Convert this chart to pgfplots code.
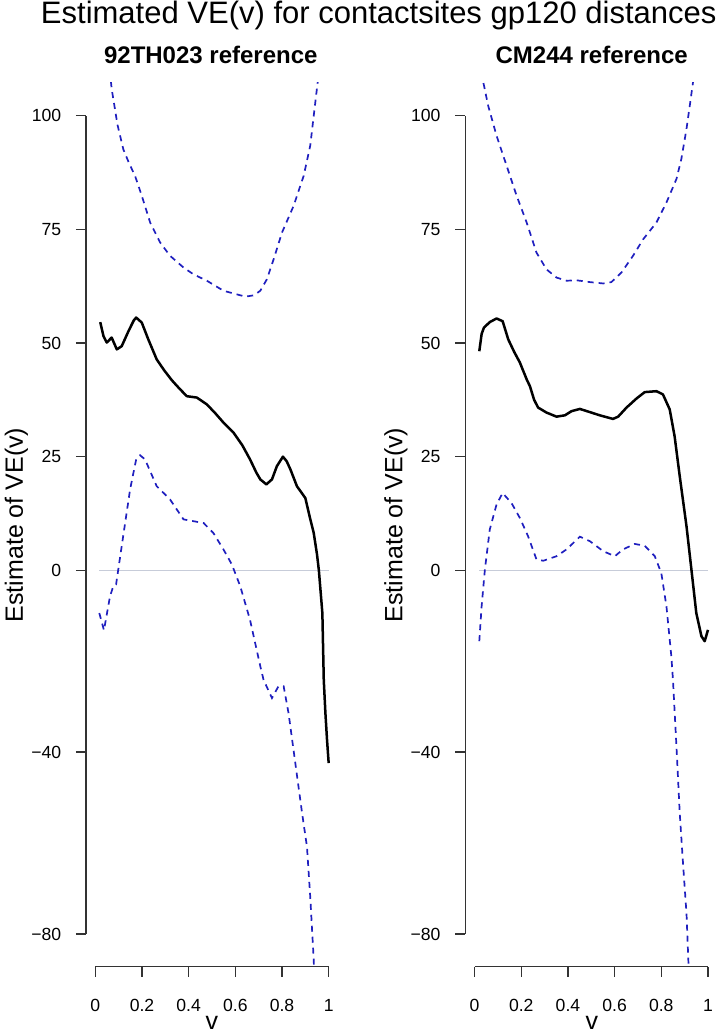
\documentclass[border=0pt]{standalone}
\usepackage{fontspec}
\setmainfont{Liberation Sans}
\usepackage{pgfplots}
\pgfplotsset{compat=1.18}
\definecolor{axiscol}{rgb}{0.2,0.2,0.2}
\definecolor{zerocol}{rgb}{0.78,0.80,0.85}
\definecolor{cicol}{rgb}{0.12,0.12,0.75}
\pgfplotsset{rpanel/.style={
  scale only axis, width=126pt, height=441.85pt,
  xmin=-0.04, xmax=1.04, ymin=-87.2, ymax=107.2,
  axis line style={draw=none},
  tick align=outside, tick pos=left, major tick length=5pt,
  every tick/.style={axiscol, line width=0.65pt},
  xtick={0,0.2,0.4,0.6,0.8,1}, xticklabels={0,0.2,0.4,0.6,0.8,1},
  ytick={-80,-40,0,25,50,75,100}, yticklabels={−80,−40,0,25,50,75,100},
  tick label style={font=\fontsize{8.8}{10}\selectfont},
  yticklabel style={anchor=east, inner sep=0pt, xshift=-7.2pt},
  xticklabel style={anchor=north, inner sep=0pt, yshift=-11.2pt},
  clip mode=individual,
},
est/.style={black, line width=1.25pt, line join=round},
ci/.style={cicol, line width=0.85pt, dash pattern=on 3pt off 2.5pt},
zl/.style={zerocol, line width=0.8pt}
}
\begin{document}
\begin{tikzpicture}
\path[use as bounding box] (0,0) rectangle (361.5pt,517pt);
\node[anchor=base, inner sep=0pt, font=\fontsize{15.5}{18}\selectfont] at (189.35pt,505pt) {Estimated VE(v) for contactsites gp120 distances};
\node[anchor=base, inner sep=0pt, font=\bfseries\fontsize{12}{14}\selectfont] at (105.4pt,485.35pt) {92TH023 reference};
\node[anchor=base, inner sep=0pt, font=\bfseries\fontsize{12}{14}\selectfont] at (295.85pt,485.35pt) {CM244 reference};
\node[rotate=90, anchor=base, inner sep=0pt, font=\fontsize{12.5}{15}\selectfont] at (11.5pt,254.5pt) {Estimate of VE(v)};
\node[rotate=90, anchor=base, inner sep=0pt, font=\fontsize{12.5}{15}\selectfont] at (201.15pt,254.5pt) {Estimate of VE(v)};
\node[anchor=base, inner sep=0pt, font=\fontsize{12.5}{15}\selectfont] at (105.9pt,2.2pt) {v};
\node[anchor=base, inner sep=0pt, font=\fontsize{12.5}{15}\selectfont] at (295.9pt,2.2pt) {v};

\begin{axis}[rpanel, at={(43pt,33.65pt)}, anchor=south west]
\draw[axiscol,line width=0.65pt] (axis cs:-0.04,-80) -- (axis cs:-0.04,100);
\draw[axiscol,line width=0.65pt] (axis cs:0,-87.2) -- (axis cs:1,-87.2);
\addplot[zl] coordinates {(0.017,0) (1.0,0)};
\addplot[ci] coordinates {(0.062,110) (0.070,105.9) (0.095,98) (0.120,92.6) (0.145,89.5) (0.170,86.8) (0.199,82.4) (0.235,76.5) (0.278,72.1) (0.320,69.2) (0.378,66.6) (0.421,65.1) (0.478,63.7) (0.549,61.5) (0.592,60.9) (0.643,60.2) (0.680,60.5) (0.707,61.5) (0.735,64.0) (0.764,68.4) (0.800,74.3) (0.850,80.2) (0.893,86.8) (0.921,93.4) (0.936,100) (0.953,107.4) (0.96,112)};
\addplot[ci] coordinates {(0.017,-9.4) (0.037,-13.2) (0.063,-5.7) (0.077,-3.5) (0.089,-3.1) (0.113,5.3) (0.149,17.8) (0.175,24.4) (0.192,25.3) (0.213,24.4) (0.263,18.5) (0.320,15.6) (0.378,11.2) (0.421,10.8) (0.464,10.4) (0.506,8.2) (0.549,4.6) (0.585,1.3) (0.621,-3.5) (0.663,-10.9) (0.707,-21.1) (0.721,-24.1) (0.757,-28.1) (0.785,-25.5) (0.807,-25.5) (0.828,-31.4) (0.857,-42.4) (0.886,-53.4) (0.907,-60.8) (0.921,-71.8) (0.936,-85.7) (0.940,-92)};
\addplot[est] coordinates {(0.021,54.6) (0.035,51.5) (0.049,50.1) (0.070,51.2) (0.092,48.6) (0.113,49.3) (0.142,52.6) (0.165,55.0) (0.175,55.6) (0.199,54.5) (0.227,50.8) (0.263,46.4) (0.295,44.0) (0.328,41.8) (0.360,40.0) (0.392,38.3) (0.435,38.0) (0.478,36.5) (0.515,34.5) (0.549,32.5) (0.592,30.3) (0.630,27.5) (0.663,24.4) (0.690,21.5) (0.707,20.0) (0.733,18.9) (0.757,20.0) (0.778,22.9) (0.804,25.0) (0.820,24.0) (0.836,22.2) (0.864,18.5) (0.900,15.9) (0.920,11.5) (0.936,8.2) (0.950,3.5) (0.958,0) (0.966,-5) (0.973,-9.4) (0.979,-24.1) (0.986,-31.4) (0.993,-37.3) (1.0,-42.4)};
\end{axis}

\begin{axis}[rpanel, at={(232.65pt,33.65pt)}, anchor=south west]
\draw[axiscol,line width=0.65pt] (axis cs:-0.04,-80) -- (axis cs:-0.04,100);
\draw[axiscol,line width=0.65pt] (axis cs:0,-87.2) -- (axis cs:1,-87.2);
\addplot[zl] coordinates {(0.020,0) (1.0,0)};
\addplot[ci] coordinates {(0.030,112) (0.037,107.4) (0.058,102.2) (0.094,95.6) (0.137,89.0) (0.180,82.4) (0.223,76.5) (0.265,69.9) (0.308,66.2) (0.351,64.4) (0.394,63.7) (0.437,63.8) (0.494,63.4) (0.551,63.1) (0.586,63.4) (0.629,65.5) (0.679,69.2) (0.722,72.8) (0.779,76.5) (0.822,80.9) (0.865,86.1) (0.886,90.5) (0.908,97.1) (0.922,102.2) (0.936,107.4) (0.942,112)};
\addplot[ci] coordinates {(0.020,-15.6) (0.030,-7.9) (0.044,0.2) (0.065,9.0) (0.094,14.5) (0.120,17.0) (0.158,14.8) (0.194,11.5) (0.229,7.5) (0.265,2.4) (0.294,2.1) (0.351,3.1) (0.394,4.6) (0.451,7.4) (0.494,6.4) (0.551,4.2) (0.601,3.1) (0.636,4.6) (0.686,5.8) (0.729,5.4) (0.772,3.1) (0.800,-0.6) (0.822,-7.9) (0.843,-18.9) (0.850,-24.1) (0.865,-38.8) (0.879,-53.4) (0.893,-64.4) (0.908,-75.5) (0.917,-87.2) (0.920,-92)};
\addplot[est] coordinates {(0.020,48.2) (0.030,52.0) (0.040,53.4) (0.065,54.6) (0.094,55.4) (0.120,54.8) (0.144,50.8) (0.170,48.0) (0.194,45.7) (0.223,42.0) (0.237,40.5) (0.255,37.5) (0.272,35.8) (0.308,34.7) (0.351,33.8) (0.387,34.1) (0.415,35.0) (0.451,35.5) (0.494,34.8) (0.536,34.1) (0.593,33.3) (0.615,33.8) (0.651,35.8) (0.694,37.8) (0.729,39.2) (0.779,39.4) (0.807,38.7) (0.836,35.4) (0.857,29.5) (0.879,20.7) (0.908,9.7) (0.929,0.2) (0.950,-9.4) (0.972,-14.5) (0.986,-15.6) (1.0,-13.1)};
\end{axis}
\end{tikzpicture}
\end{document}
